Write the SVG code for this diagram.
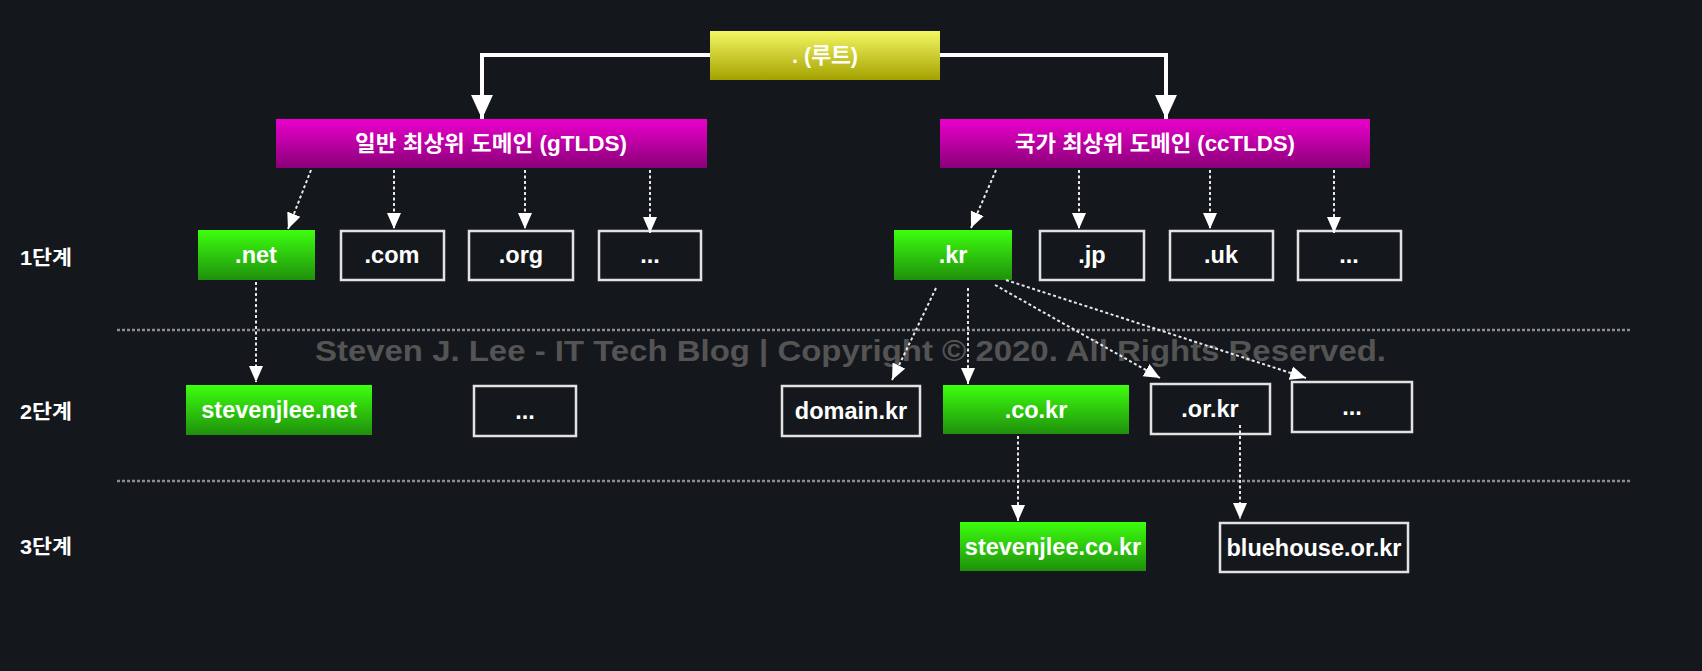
<svg xmlns="http://www.w3.org/2000/svg" width="1702" height="671" viewBox="0 0 1702 671">
<defs>
<linearGradient id="gGreen" x1="0" y1="0" x2="0" y2="1"><stop offset="0" stop-color="#3dff0e"/><stop offset="1" stop-color="#1f900c"/></linearGradient>
<linearGradient id="gMag" x1="0" y1="0" x2="0" y2="1"><stop offset="0" stop-color="#ea00cc"/><stop offset="1" stop-color="#8a0078"/></linearGradient>
<linearGradient id="gYel" x1="0" y1="0" x2="0" y2="1"><stop offset="0" stop-color="#f4f764"/><stop offset="1" stop-color="#a4a200"/></linearGradient>
<marker id="aBig" markerUnits="userSpaceOnUse" markerWidth="24" markerHeight="24" viewBox="0 0 22 22" refX="22" refY="11" orient="auto"><path d="M0,1 L22,11 L0,21 Z" fill="#ffffff"/></marker>
<marker id="aSm" markerUnits="userSpaceOnUse" markerWidth="16" markerHeight="15" viewBox="0 0 16 15" refX="16" refY="7.5" orient="auto"><path d="M0,0.5 L16,7.5 L0,14.5 Z" fill="#ffffff"/></marker>
<style>
.t{font-family:"Liberation Sans","Noto Sans CJK KR",sans-serif;font-weight:bold;fill:#ffffff;text-anchor:middle}
.box{font-size:23.5px}
.hdr{font-size:22px}
.lvl{font-size:20px;text-anchor:start}
.out{fill:#14181c;stroke:#e2e2e2;stroke-width:2.5}
.sep{stroke:#8c8c8c;stroke-width:2.5;stroke-dasharray:3 2;fill:none}
.solid{stroke:#ffffff;stroke-width:4;fill:none;marker-end:url(#aBig)}
.dash{stroke:#e8e8e8;stroke-width:2;stroke-dasharray:3 2.5;fill:none;marker-end:url(#aSm)}
</style>
</defs>
<rect width="1702" height="671" fill="#14181c"/>

<g id="separators">
<line class="sep" x1="117" y1="330" x2="1630" y2="330"/>
<line class="sep" x1="117" y1="481" x2="1630" y2="481"/>
</g>

<text x="315" y="361" style="font-family:'Liberation Sans',sans-serif;font-weight:bold;font-size:30px;fill:#545454" textLength="1071" lengthAdjust="spacingAndGlyphs">Steven J. Lee - IT Tech Blog | Copyright © 2020. All Rights Reserved.</text>

<g id="levels">
<text class="t lvl" x="20" y="265" textLength="52" lengthAdjust="spacingAndGlyphs">1단계</text>
<text class="t lvl" x="20" y="419" textLength="52" lengthAdjust="spacingAndGlyphs">2단계</text>
<text class="t lvl" x="20" y="554" textLength="52" lengthAdjust="spacingAndGlyphs">3단계</text>
</g>

<g id="root"><rect x="710" y="31" width="230" height="49" fill="url(#gYel)"/><text class="t hdr" x="825" y="63" textLength="66" lengthAdjust="spacingAndGlyphs">. (루트)</text></g>
<g id="gtld"><rect x="276" y="119" width="431" height="49" fill="url(#gMag)"/><text class="t hdr" x="491" y="151" textLength="272" lengthAdjust="spacingAndGlyphs">일반 최상위 도메인 (gTLDS)</text></g>
<g id="cctld"><rect x="940" y="119" width="430" height="49" fill="url(#gMag)"/><text class="t hdr" x="1155" y="151" textLength="280" lengthAdjust="spacingAndGlyphs">국가 최상위 도메인 (ccTLDS)</text></g>

<g id="net"><rect x="198" y="230" width="117" height="50" fill="url(#gGreen)"/><text class="t box" x="256" y="263">.net</text></g>
<g id="com"><rect class="out" x="341" y="231" width="103" height="49"/><text class="t box" x="392" y="263">.com</text></g>
<g id="org"><rect class="out" x="469" y="231" width="104" height="49"/><text class="t box" x="521" y="263">.org</text></g>
<g id="g-etc1"><rect class="out" x="599" y="231" width="102" height="49"/><text class="t box" x="650" y="263">...</text></g>
<g id="kr"><rect x="894" y="230" width="118" height="50" fill="url(#gGreen)"/><text class="t box" x="953" y="263">.kr</text></g>
<g id="jp"><rect class="out" x="1040" y="231" width="104" height="49"/><text class="t box" x="1092" y="263">.jp</text></g>
<g id="uk"><rect class="out" x="1170" y="231" width="103" height="49"/><text class="t box" x="1221" y="263">.uk</text></g>
<g id="c-etc1"><rect class="out" x="1298" y="231" width="103" height="49"/><text class="t box" x="1349" y="263">...</text></g>

<g id="stevenjlee-net"><rect x="186" y="385" width="186" height="50" fill="url(#gGreen)"/><text class="t box" x="279" y="418">stevenjlee.net</text></g>
<g id="g-etc2"><rect class="out" x="474" y="386" width="102" height="50"/><text class="t box" x="525" y="419">...</text></g>
<g id="domain-kr"><rect class="out" x="782" y="386" width="138" height="50"/><text class="t box" x="851" y="419">domain.kr</text></g>
<g id="co-kr"><rect x="943" y="385" width="186" height="49" fill="url(#gGreen)"/><text class="t box" x="1036" y="418">.co.kr</text></g>
<g id="or-kr"><rect class="out" x="1151" y="384" width="119" height="50"/><text class="t box" x="1210" y="417">.or.kr</text></g>
<g id="c-etc2"><rect class="out" x="1292" y="382" width="120" height="50"/><text class="t box" x="1352" y="415">...</text></g>

<g id="stevenjlee-co-kr"><rect x="960" y="522" width="186" height="49" fill="url(#gGreen)"/><text class="t box" x="1053" y="555">stevenjlee.co.kr</text></g>
<g id="bluehouse-or-kr"><rect class="out" x="1220" y="523" width="188" height="49"/><text class="t box" x="1314" y="556">bluehouse.or.kr</text></g>

<g id="connectors">
<path class="solid" d="M710,55 H482 V119"/>
<path class="solid" d="M940,55 H1166 V119"/>
<path class="dash" d="M311,170 L288,229"/>
<path class="dash" d="M394,170 L394,229"/>
<path class="dash" d="M525,170 L525,229"/>
<path class="dash" d="M650,170 L650,233"/>
<path class="dash" d="M996,170 L971,228"/>
<path class="dash" d="M1079,170 L1079,229"/>
<path class="dash" d="M1210,170 L1210,229"/>
<path class="dash" d="M1334,170 L1334,233"/>
<path class="dash" d="M256,282 L256,382"/>
<path class="dash" d="M936,288 L892,380"/>
<path class="dash" d="M968,288 L968,384"/>
<path class="dash" d="M995,285 L1160,378"/>
<path class="dash" d="M1006,280 L1306,378"/>
<path class="dash" d="M1018,436 L1018,521"/>
<path class="dash" d="M1240,425 L1240,519"/>
</g>
</svg>
